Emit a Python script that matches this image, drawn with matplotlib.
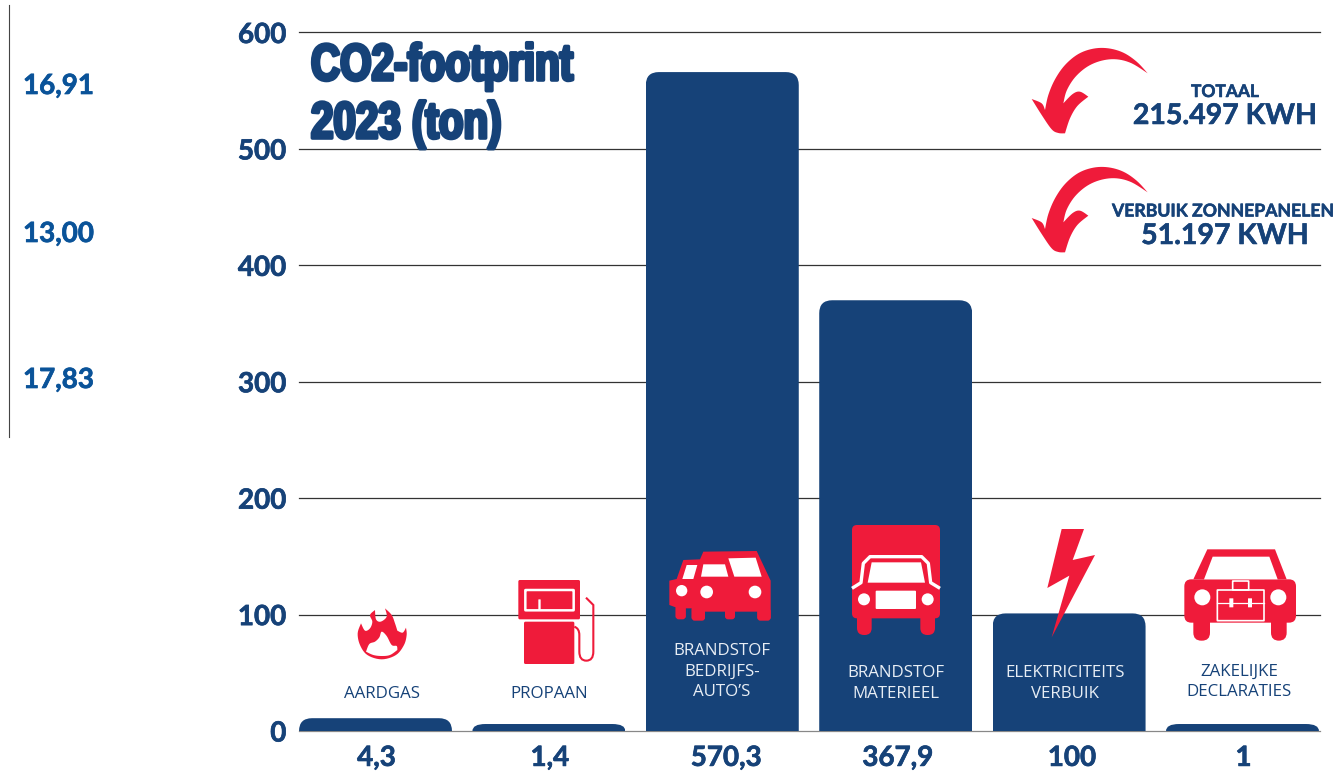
import matplotlib
matplotlib.use('Agg')
import matplotlib.pyplot as plt
import matplotlib.patheffects as pe
from matplotlib.path import Path
from matplotlib.patches import Polygon, PathPatch, Circle, FancyBboxPatch
from matplotlib.transforms import Affine2D

NAVY = '#164278'
RED = '#EF1B3A'
BLUE = '#0A5399'

# values
categories = ['AARDGAS', 'PROPAAN', "BRANDSTOF\nBEDRIJFS-\nAUTO\u2019S", 'BRANDSTOF\nMATERIEEL',
              'ELEKTRICITEITS\nVERBUIK', 'ZAKELIJKE\nDECLARATIES']
bar_heights = [11, 6, 566, 370, 101, 6]
value_labels = ['4,3', '1,4', '570,3', '367,9', '100', '1']
y_ticks = [0, 100, 200, 300, 400, 500, 600]
side_values = ['16,91', '13,00', '17,83']
title_lines = ['CO2-footprint', '2023 (ton)']


class Squeeze(pe.AbstractPathEffect):
    # narrows the glyphs around x0 and thickens them, the title font is not condensed enough
    def __init__(self, x0, fx, lw, color):
        super().__init__()
        self.x0, self.fx, self.lw, self.color = x0, fx, lw, color

    def draw_path(self, renderer, gc, tpath, affine, rgbFace=None):
        gc0 = renderer.new_gc()
        gc0.copy_properties(gc)
        gc0.set_linewidth(self.lw)
        gc0.set_foreground(self.color)
        aff = affine + Affine2D().translate(-self.x0, 0).scale(self.fx, 1).translate(self.x0, 0)
        renderer.draw_path(gc0, tpath, aff, rgbFace)
        gc0.restore()


W, H = 1334, 774
fig = plt.figure(figsize=(W / 100, H / 100), dpi=100, facecolor='white')
ax = fig.add_axes([299 / W, (H - 731) / H, (1320 - 299) / W, (731 - 32.5) / H])
ax.set_xlim(-0.4412, 5.447)
ax.set_ylim(0, 600)

xs = list(range(len(categories)))
bars = ax.bar(xs, bar_heights, width=0.882, color=NAVY, zorder=3)
sx = 1 / 173.4
sy = 600 / 698.5
for b in bars:
    x0, w, h = b.get_x(), b.get_width(), b.get_height()
    rx = 13 * sx
    ry = min(13 * sy, h)
    verts = [(x0, 0), (x0, h - ry), (x0, h), (x0 + rx, h), (x0 + w - rx, h), (x0 + w, h), (x0 + w, h - ry),
             (x0 + w, 0), (x0, 0)]
    codes = [Path.MOVETO, Path.LINETO, Path.CURVE3, Path.CURVE3, Path.LINETO, Path.CURVE3, Path.CURVE3,
             Path.LINETO, Path.CLOSEPOLY]
    b.set_clip_path(Path(verts, codes), ax.transData)

ax.set_yticks(y_ticks)
ax.set_xticks(xs)
ax.set_xticklabels(value_labels)
ax.tick_params(length=0)
ax.tick_params(axis='y', pad=9)
ax.tick_params(axis='x', pad=10)
semi = [pe.withStroke(linewidth=0.5, foreground=NAVY)]
for t in ax.get_xticklabels() + ax.get_yticklabels():
    t.set_fontfamily('Lato')
    t.set_fontweight('bold')
    t.set_fontsize(20)
    t.set_color(NAVY)
    t.set_path_effects(semi)
# the value labels sit a few pixels right of the bar centres
for t, dx in zip(ax.get_xticklabels(), [1, 1, 4, 2, 3, 1]):
    t.set_transform(t.get_transform() + Affine2D().translate(dx, 0))
ax.grid(axis='y', color='#333333', lw=0.9, zorder=1)
ax.set_axisbelow(True)
for gl in ax.get_ygridlines():
    gl.set_clip_on(False)
ax.get_ygridlines()[0].set_color('#888888')
for s in ax.spines.values():
    s.set_visible(False)

# overlay in pixel coordinates for icons and text
ov = fig.add_axes([0, 0, 1, 1], facecolor='none')
ov.set_xlim(0, W)
ov.set_ylim(H, 0)
ov.axis('off')

ov.plot([9, 9], [5, 437], color='#444444', lw=0.8)
for val, y in zip(side_values, [86, 234, 380]):
    ov.text(23, y, val, color=BLUE, fontsize=20, family='Lato', weight='bold', va='center',
            path_effects=[pe.withStroke(linewidth=0.5, foreground=BLUE)])


def pts(points, ox, oy):
    # zoomed crop coordinates (3x) to figure pixels
    return [(ox + px / 3, oy + py / 3) for px, py in points]


def curve(points, n=6):
    # catmull-rom through the outline points of an icon, open ended
    p = [points[0]] + list(points) + [points[-1]]
    out = []
    for i in range(1, len(p) - 2):
        p0, p1, p2, p3 = p[i - 1], p[i], p[i + 1], p[i + 2]
        for k in range(n):
            t = k / n
            out.append(tuple(0.5 * (2 * p1[j] + (p2[j] - p0[j]) * t + (2 * p0[j] - 5 * p1[j] + 4 * p2[j] - p3[j]) * t ** 2
                                    + (3 * p1[j] - p0[j] - 3 * p2[j] + p3[j]) * t ** 3) for j in (0, 1)))
    out.append(points[-1])
    return out


def poly(points, ox, oy, color=RED, z=5, **kw):
    ov.add_patch(Polygon(pts(points, ox, oy), closed=True, facecolor=color, edgecolor='none', zorder=z, **kw))


def rrect(x0, y0, x1, y1, ox, oy, r=3, color=RED, z=5, fill=True, lw=0):
    (a, b), (c, d) = pts([(x0, y0), (x1, y1)], ox, oy)
    ov.add_patch(FancyBboxPatch((a + r, b + r), c - a - 2 * r, d - b - 2 * r, boxstyle='round,pad=%g' % r,
                                facecolor=color if fill else 'none', edgecolor=color if not fill else 'none',
                                lw=lw, zorder=z))


def circ(x, y, r, ox, oy, color='white', z=6):
    (a, b), = pts([(x, y)], ox, oy)
    ov.add_patch(Circle((a, b), r / 3, facecolor=color, edgecolor='none', zorder=z))


def arrow(oy):
    outline = (curve([(443, 160), (410, 125), (370, 98), (325, 85), (280, 86), (235, 102), (195, 135), (165, 178),
                      (145, 225), (135, 270)])
               + curve([(135, 270), (125, 250), (95, 237)])
               + curve([(95, 237), (125, 285), (155, 328), (175, 339), (195, 340)])
               + curve([(195, 340), (210, 295), (232, 258), (265, 230)])
               + curve([(265, 230), (240, 215), (218, 222), (190, 250)])
               + curve([(190, 250), (200, 212), (225, 172), (262, 140), (305, 122), (350, 118), (395, 130), (443, 160)]))
    poly(outline, 1000, oy)


arrow(20)
arrow(139)

# flame
o = (290, 560)
flame = (curve([(213, 190), (203, 220), (210, 255), (232, 285), (275, 298), (318, 285), (342, 255), (350, 225), (348, 203)])
         + curve([(348, 203), (338, 218), (322, 212)])
         + curve([(322, 212), (315, 190), (305, 165), (285, 145)])
         + curve([(285, 145), (290, 170), (272, 185), (258, 178), (255, 150)])
         + curve([(255, 150), (240, 165), (247, 185), (240, 205), (225, 212), (213, 190)]))
poly(flame, *o)
inner = (curve([(228, 275), (238, 252), (255, 245), (268, 232), (275, 215), (290, 228), (305, 255), (320, 258), (322, 270)])
         + curve([(322, 270), (300, 285), (275, 288), (250, 285), (228, 275)]))
poly(inner, *o, color='white', z=6)

# pump
rrect(685, 60, 870, 178, *o, r=1.5)
rrect(702, 185, 853, 312, *o, r=1.5)
rrect(706, 90, 851, 151, *o, r=0.5, color='white', fill=False, lw=1.8, z=6)
rrect(745, 118, 752, 151, *o, r=0.5, color='white', z=6)
hose = pts([(853, 200), (868, 205), (868, 225), (868, 275), (868, 302), (889, 302), (910, 302), (910, 275), (910, 135),
            (888, 113)], *o)
ov.add_patch(PathPatch(Path(hose, [Path.MOVETO, Path.CURVE3, Path.CURVE3, Path.LINETO, Path.CURVE3, Path.CURVE3,
                                   Path.CURVE3, Path.CURVE3, Path.LINETO, Path.LINETO]),
                       facecolor='none', edgecolor=RED, lw=1.5, zorder=5))

# two cars
o = (640, 510)
poly([(130, 150), (180, 148), (190, 125), (350, 123), (392, 212), (392, 325), (352, 325), (352, 305), (285, 305),
      (285, 320), (255, 320), (255, 305), (195, 305), (195, 325), (155, 325), (155, 295), (137, 295), (137, 322),
      (107, 322), (107, 292), (88, 285), (88, 212), (110, 207)], *o)
rrect(155, 290, 195, 332, *o, r=3)
rrect(255, 295, 285, 328, *o, r=3)
rrect(352, 295, 392, 332, *o, r=3)
rrect(107, 285, 137, 328, *o, r=3)
poly([(140, 165), (172, 165), (160, 207), (127, 207)], *o, color='white', z=6)
poly([(190, 163), (255, 163), (265, 200), (183, 200)], *o, color='white', z=6)
poly([(265, 145), (347, 143), (365, 200), (283, 200)], *o, color='white', z=6)
circ(125, 242, 17, *o)
circ(200, 246, 19, *o)
circ(345, 246, 19, *o)

# truck
rrect(636, 45, 900, 325, *o, r=5)
rrect(651, 300, 695, 375, *o, r=7)
rrect(841, 300, 885, 375, *o, r=7)
line = pts([(636, 235), (663, 218), (670, 160), (690, 140), (845, 140), (865, 160), (872, 218), (900, 235)], *o)
ov.plot(*zip(*line), color='white', lw=2.4, zorder=6, solid_joinstyle='round', solid_capstyle='butt')
poly([(695, 157), (843, 157), (855, 218), (683, 218)], *o, color='white', z=6)
rrect(707, 242, 828, 297, *o, r=1, color='white', z=6)
circ(672, 268, 18, *o)
circ(863, 268, 18, *o)

# lightning
o = (980, 510)
poly([(245, 57), (312, 57), (278, 150), (345, 135), (215, 382), (268, 197), (202, 234)], *o)

# car with briefcase
poly([(682, 118), (885, 118), (920, 208), (640, 208)], *o)
rrect(613, 208, 948, 338, *o, r=7)
rrect(640, 300, 690, 392, *o, r=8)
rrect(873, 300, 920, 392, *o, r=8)
poly([(698, 140), (868, 140), (893, 208), (672, 208)], *o, color='white', z=6)
circ(667, 262, 24, *o)
circ(895, 262, 24, *o)
rrect(712, 240, 852, 332, *o, r=0.3, color='white', fill=False, lw=1.2, z=6)
rrect(758, 213, 806, 240, *o, r=0.3, color='white', fill=False, lw=1.2, z=6)
rrect(748, 265, 760, 292, *o, r=0.3, color='white', z=6)
rrect(804, 265, 816, 292, *o, r=0.3, color='white', z=6)
ov.plot(*zip(*pts([(712, 278), (852, 278)], *o)), color='white', lw=0.9, zorder=6)

# category labels
label_x = [382, 549, 722, 896, 1065, 1239]
label_y = [693.5, 693.5, 671.5, 683.5, 683.5, 681.5]
label_color = [NAVY, NAVY, '#E8EEF5', '#E8EEF5', '#E8EEF5', NAVY]
for name, x, y, c in zip(categories, label_x, label_y, label_color):
    ov.text(x, y, name, color=c, fontsize=12.2, family='Open Sans', ha='center', va='center', linespacing=1.34, zorder=7)

# right hand text
heavy = [pe.withStroke(linewidth=0.4, foreground=NAVY)]
ov.text(1225, 92, 'TOTAAL', color=NAVY, fontsize=12.5, family='Lato', weight='bold', ha='center', va='center', path_effects=heavy)
ov.text(1225, 116, '215.497 KWH', color=NAVY, fontsize=20.5, family='Lato', weight='bold', ha='center', va='center', path_effects=heavy)
ov.text(1112, 211, 'VERBUIK ZONNEPANELEN', color=NAVY, fontsize=12.7, family='Lato', weight='bold', va='center', path_effects=heavy)
ov.text(1225, 236, '51.197 KWH', color=NAVY, fontsize=20.5, family='Lato', weight='bold', ha='center', va='center', path_effects=heavy)

# title
for line_txt, y in zip(title_lines, [80, 138]):
    ov.text(311, y, line_txt, color=NAVY, fontsize=37, family='Liberation Sans', weight='bold', va='baseline', zorder=7,
            path_effects=[Squeeze(311, 0.785, 2.6, NAVY)])

fig.savefig('out.png', dpi=100)
